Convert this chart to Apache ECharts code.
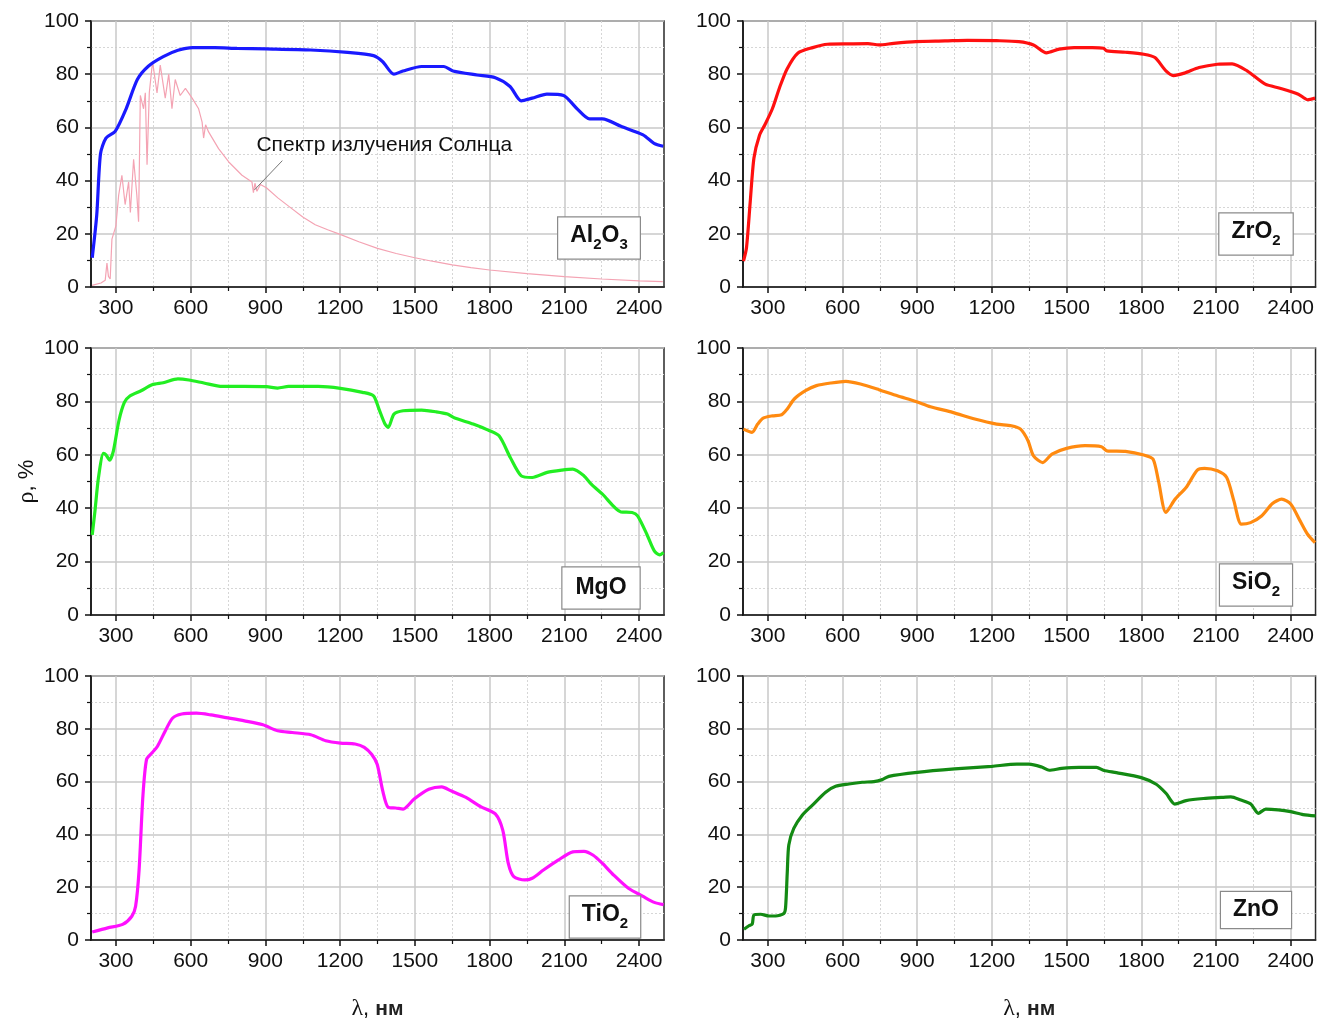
<!DOCTYPE html>
<html>
<head>
<meta charset="utf-8">
<script src="https://cdn.jsdelivr.net/npm/echarts@6/dist/echarts.min.js"></script>
<style>html,body{margin:0;padding:0;background:#fff}#c{width:1317px;height:1022px}</style>
</head>
<body>
<div id="c"></div>
<script>
// ---- tick values ----
const xMajorTicks = [300, 600, 900, 1200, 1500, 1800, 2100, 2400];
const xMinorTicks = [450, 750, 1050, 1350, 1650, 1950, 2250];

// ---- Al2O3 ----
const al2o3_wl = [205,223,238,260,297,341,386,430,490,549,608,697,786,904,1082,1230,1334,1371,1416,1452,1527,1616,1653,1749,1823,1882,1927,1971,2030,2097,2149,2201,2253,2327,2416,2460,2497];
const al2o3_r  = [11,27,50,56,58.5,67,78,83,86.6,89,90,90,89.7,89.5,89.1,88.2,87,84.7,80,81.2,82.9,82.9,81.2,79.7,78.7,75.4,70,71,72.5,72,67.2,63.2,63.2,60.4,57.2,54,52.9];

// ---- Solar spectrum (relative) ----
const sun_wl = [204,240,257,264,270,277,284,300,311,324,337,351,358,371,384,391,398,411,418,425,434,447,465,478,498,512,525,538,558,579,606,632,646,652,660,672,712,753,806,846,852,858,866,880,904,950,993,1050,1100,1150,1200,1275,1350,1425,1500,1575,1650,1725,1800,1950,2100,2250,2400,2495];
const sun_s  = [0.6,1.5,2.5,9,4,3,18,23,34.5,42,31,39.5,28,48,34.5,24.5,72,67,73,46,73,84.7,73,83.4,71,80,67,78,72,74.7,71,67,62,56,61,58.3,52,47,42,39.5,35.5,39,36,38.5,37.3,33.5,30.4,26.3,23.4,21.5,19.8,17,14.5,12.6,11,9.6,8.3,7.3,6.4,5,3.9,3,2.3,2];

// ---- ZrO2 ----
const zro2_wl = [202,214,229,244,266,288,318,347,377,421,480,539,628,702,746,805,894,1012,1101,1219,1308,1367,1419,1470,1530,1603,1648,1662,1736,1810,1855,1899,1929,1973,2032,2106,2165,2225,2298,2357,2431,2468,2498];
const zro2_r  = [9.75,14.75,32,48.5,57,61,67,75,82,88,90,91.25,91.4,91.5,91,91.6,92.25,92.5,92.75,92.6,92.25,91,88,89.4,90,90,89.75,88.75,88.25,87.5,86.25,81.25,79.5,80.4,82.5,83.75,83.9,81.25,76.25,74.75,72.5,70.4,71];

// ---- MgO ----
const mgo_wl = [205,216,230,250,260,275,290,312,334,356,401,445,490,549,593,653,727,816,905,949,993,1112,1201,1290,1334,1356,1379,1393,1416,1453,1527,1586,1631,1660,1734,1794,1838,1883,1927,1971,2031,2090,2134,2179,2208,2253,2327,2372,2394,2431,2461,2483,2498];
const mgo_r  = [30,39,51.5,60.5,60,58,61.5,72.75,79.6,82,84,86.25,87,88.4,88,86.9,85.6,85.6,85.5,85,85.6,85.6,84.9,83.4,82.1,77.1,71.75,70.25,75.25,76.5,76.75,76.1,75.25,73.75,71.5,69.25,67.1,59,52.1,51.5,53.4,54.25,54.6,52.1,49,45.25,38.6,38.4,37.1,30.25,24,22.5,23.4];

// ---- SiO2 ----
const sio2_wl = [202,236,259,281,318,355,377,406,451,495,554,613,672,746,820,894,953,1042,1131,1219,1278,1315,1345,1367,1404,1441,1500,1574,1640,1662,1736,1810,1847,1869,1899,1936,1980,2025,2054,2106,2143,2172,2202,2239,2283,2327,2364,2401,2438,2468,2498];
const sio2_r  = [69.6,68.4,71.5,73.75,74.6,75,77.1,80.9,84,85.9,86.9,87.5,86.5,84.4,82.1,80,78,75.9,73.4,71.5,70.9,69.6,65.25,59.6,57.1,60.25,62.4,63.4,63,61.5,61.25,59.9,58.4,50.25,38.4,43.4,47.75,54.25,54.9,54,51.5,42.75,34,34.6,37.1,41.75,43.4,41.5,35.25,30.25,27.1];

// ---- TiO2 ----
const tio2_wl = [205,267,327,364,379,393,408,423,445,467,497,527,564,623,682,742,816,890,949,1008,1082,1142,1201,1260,1297,1327,1349,1371,1393,1423,1453,1497,1556,1608,1645,1705,1764,1823,1853,1875,1897,1941,1971,2016,2075,2134,2179,2216,2253,2298,2357,2416,2461,2498];
const tio2_r  = [3,4.6,5.9,9,12.75,26.5,54,68.4,70.9,73.4,79,84,85.6,85.9,85.25,84.25,83,81.5,79.25,78.6,77.75,75.5,74.6,74.25,73,70.25,66.5,56.5,50.25,50,49.6,53.4,57.1,58,56.5,54,50.5,47.75,41.5,29,24,22.75,23.4,26.5,30.25,33.4,33.6,32.1,29,24.6,19.6,16.5,14.25,13.4];

// ---- ZnO ----
const zno_wl = [204,224,237,244,271,304,331,364,371,378,384,404,438,478,532,572,625,679,726,759,786,900,1050,1200,1300,1350,1400,1430,1480,1550,1620,1650,1700,1800,1860,1900,1935,1980,2050,2120,2160,2200,2240,2270,2300,2350,2400,2450,2500];
const zno_r  = [4.1,5.4,6,9.5,9.75,9.1,9.1,10,12.25,26,36,42.25,47.25,51,56,58.25,59.1,59.75,60,60.75,62,63.5,64.8,65.8,66.6,66.6,65.5,64.3,65,65.4,65.4,64.2,63.4,61.5,59,55.5,51.5,52.8,53.6,54,54.2,53,51.5,48,49.6,49.3,48.6,47.5,47];

const zip = (a, b) => a.map((v, i) => [v, b[i]]);

const FONT = "'Liberation Sans', Arial, sans-serif";
const panels = [
  {name: 'Al2O3', wl: al2o3_wl, r: al2o3_r, color: '#1a1aff', label: '{n|Al}{s|2}{n|O}{s|3}', box: [599, 238], pad: [7, 12, 6, 12]},
  {name: 'ZrO2',  wl: zro2_wl,  r: zro2_r,  color: '#ff1010', label: '{n|ZrO}{s|2}', box: [1256, 234], pad: [7, 12, 6, 12]},
  {name: 'MgO',   wl: mgo_wl,   r: mgo_r,   color: '#22ee22', label: '{n|MgO}', box: [601, 588], pad: [9, 13, 8, 13]},
  {name: 'SiO2',  wl: sio2_wl,  r: sio2_r,  color: '#ff8a10', label: '{n|SiO}{s|2}', box: [1256, 585], pad: [7, 12, 6, 12]},
  {name: 'TiO2',  wl: tio2_wl,  r: tio2_r,  color: '#ff10ff', label: '{n|TiO}{s|2}', box: [605, 917], pad: [7, 12, 6, 12]},
  {name: 'ZnO',   wl: zno_wl,   r: zno_r,   color: '#138a13', label: '{n|ZnO}', box: [1256, 910], pad: [6, 12, 6, 12]}
];

const tops = [21, 348, 676], heights = [266, 267, 266], lefts = [91, 743], W = 573;
const grids = [], xAxes = [], yAxes = [], series = [], graphics = [];

panels.forEach((p, i) => {
  const row = Math.floor(i / 2), col = i % 2;
  grids.push({left: lefts[col], top: tops[row], width: W, height: heights[row],
    show: true, borderColor: '#2a2a2a', borderWidth: 1.5, backgroundColor: 'transparent'});
  const isBottom = row === 2;
  xAxes.push({
    type: 'value', gridIndex: i, min: 200, max: 2500, position: 'bottom',
    name: isBottom ? '{g|λ}, {t|нм}' : '', nameLocation: 'middle', nameGap: 57,
    nameTextStyle: {fontSize: 22, color: '#111', fontFamily: FONT,
      rich: {g: {fontFamily: "'Liberation Serif', 'DejaVu Serif', serif", fontSize: 24, color: '#111'},
             t: {fontFamily: FONT, fontSize: 21, fontWeight: 'bold', color: '#222'}}},
    axisLine: {show: true, lineStyle: {color: '#111', width: 1.5}},
    axisTick: {show: true, inside: false, length: 6, customValues: xMajorTicks, lineStyle: {color: '#111', width: 1.5}},
    axisLabel: {show: true, customValues: xMajorTicks, margin: 11, fontSize: 21, color: '#111', fontFamily: FONT,
      formatter: v => String(v)},
    splitLine: {show: true, lineStyle: {color: '#c9c9c9', width: 1.5}}
  });
  xAxes.push({
    type: 'value', gridIndex: i, min: 200, max: 2500, position: 'bottom',
    axisLine: {show: false},
    axisTick: {show: true, inside: false, length: 4, customValues: xMinorTicks, lineStyle: {color: '#111', width: 1.2}},
    axisLabel: {show: false},
    splitLine: {show: true, lineStyle: {color: '#d6d6d6', width: 1, type: [2, 2]}}
  });
  yAxes.push({
    type: 'value', gridIndex: i, min: 0, max: 100, interval: 20,
    name: i === 2 ? '{g|ρ}, %' : '', nameLocation: 'middle', nameGap: 52, nameRotate: 90,
    nameTextStyle: {fontSize: 22, color: '#111', fontFamily: FONT,
      rich: {g: {fontFamily: "'Liberation Serif', 'DejaVu Serif', serif", fontSize: 24, color: '#111'}}},
    axisLine: {show: true, lineStyle: {color: '#111', width: 1.5}},
    axisTick: {show: true, inside: false, length: 6, lineStyle: {color: '#111', width: 1.5}},
    minorTick: {show: true, splitNumber: 2, length: 4, lineStyle: {color: '#111', width: 1.2}},
    axisLabel: {margin: 12, fontSize: 21, color: '#111', fontFamily: FONT},
    splitLine: {show: true, lineStyle: {color: '#c9c9c9', width: 1.5}},
    minorSplitLine: {show: true, lineStyle: {color: '#d6d6d6', width: 1, type: [2, 2]}}
  });
  if (i === 0) {
    series.push({
      type: 'line', name: 'sun', xAxisIndex: 0, yAxisIndex: 0, data: zip(sun_wl, sun_s),
      showSymbol: false, symbol: 'none', lineStyle: {color: '#f4a3b3', width: 1.2}, z: 3, silent: true,
      markLine: {symbol: 'none', silent: true, label: {show: false},
        lineStyle: {color: '#777', width: 1, type: 'solid'},
        data: [[{coord: [856, 36.5]}, {coord: [968, 47.5]}]]},
      markPoint: {symbol: 'circle', symbolSize: 0, silent: true,
        data: [{coord: [864, 53.4], value: 0}],
        label: {show: true, position: 'right', distance: 0, formatter: 'Спектр излучения Солнца',
          fontSize: 21, color: '#111', fontFamily: FONT}}
    });
  }
  series.push({
    type: 'line', name: p.name, xAxisIndex: 2 * i, yAxisIndex: i, data: zip(p.wl, p.r),
    showSymbol: false, symbol: 'none', smooth: 0.25, lineStyle: {color: p.color, width: 3.2}, z: 4, silent: true
  });
  graphics.push({
    type: 'text', x: p.box[0], y: p.box[1], z: 100,
    style: {
      text: p.label, align: 'center', verticalAlign: 'middle',
      backgroundColor: '#fff', borderColor: '#8a8a8a', borderWidth: 1.2, padding: p.pad,
      rich: {
        n: {fontSize: 23, fontWeight: 'bold', fontFamily: FONT, lineHeight: 24, verticalAlign: 'top', fill: '#111'},
        s: {fontSize: 15, fontWeight: 'bold', fontFamily: FONT, lineHeight: 28, verticalAlign: 'bottom', fill: '#111'}
      }
    }
  });
});

const chart = echarts.init(document.getElementById('c'), null, {renderer: 'canvas'});
chart.setOption({
  animation: false,
  backgroundColor: '#fff',
  grid: grids, xAxis: xAxes, yAxis: yAxes, series: series, graphic: graphics
});
</script>
</body>
</html>
